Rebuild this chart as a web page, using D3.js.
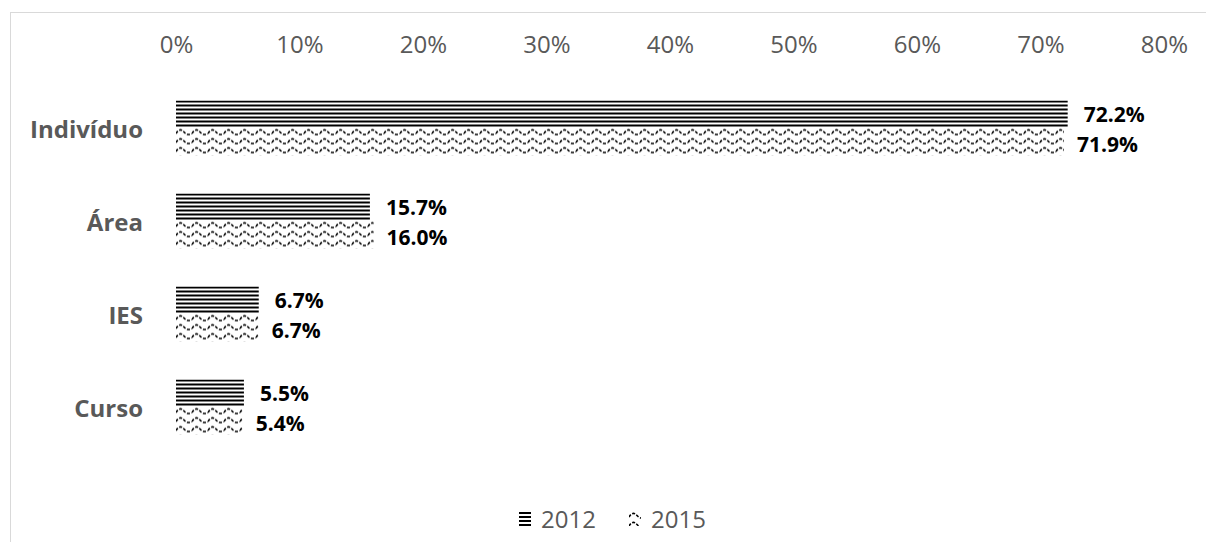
<!DOCTYPE html>
<html>
<head>
<meta charset="utf-8">
<script src="https://cdn.jsdelivr.net/npm/d3@7"></script>
<style>
  html, body { margin: 0; padding: 0; background: #fff; }
  svg { display: block; font-family: "Open Sans", "Noto Sans", sans-serif; }
</style>
</head>
<body>
<svg id="chart" width="1206" height="542"></svg>
<script>
// Categories and series (percent of responses)
const categories = ["Indivíduo", "Área", "IES", "Curso"];
const seriesNames = ["2012", "2015"];
const values2012 = [72.2, 15.7, 6.7, 5.5];
const values2015 = [71.9, 16.0, 6.7, 5.4];
const tickValues = [0, 10, 20, 30, 40, 50, 60, 70, 80];

const svg = d3.select("#chart");
const grey = "#595959";

// Outer frame of the chart area
svg.append("rect")
  .attr("x", 10.5).attr("y", 12.5)
  .attr("width", 1220).attr("height", 560)
  .attr("fill", "#fff").attr("stroke", "#d9d9d9").attr("stroke-width", 1);

// Fill patterns: horizontal lines for 2012, wavy lines for 2015
const defs = svg.append("defs");
function horizPattern(id, ox, oy) {
  const p = defs.append("pattern").attr("id", id)
    .attr("patternUnits", "userSpaceOnUse")
    .attr("patternTransform", `translate(${ox},${oy})`)
    .attr("width", 8).attr("height", 4);
  p.append("rect").attr("width", 8).attr("height", 4).attr("fill", "#fff");
  p.append("rect").attr("y", 0).attr("width", 8).attr("height", 2).attr("fill", "#000");
}
function wavePattern(id, ox, oy) {
  const p = defs.append("pattern").attr("id", id)
    .attr("patternUnits", "userSpaceOnUse")
    .attr("patternTransform", `translate(${ox},${oy})`)
    .attr("width", 16).attr("height", 9);
  p.append("rect").attr("width", 16).attr("height", 9).attr("fill", "#fff");
  p.append("path")
    .attr("d", "M0,6 C2.5,1.5 5.5,1.5 8,4.5 C10.5,7.5 13.5,7.5 16,6")
    .attr("fill", "none").attr("stroke", "#000").attr("stroke-width", 1.6)
    .attr("stroke-dasharray", "3,1.6");
}
horizPattern("pat2012", 0, 0);
wavePattern("pat2015", 0, 0);
const fills = ["url(#pat2012)", "url(#pat2015)"];

// Scales
const x = d3.scaleLinear().domain([0, 80]).range([176, 1164]);
const y = d3.scaleBand().domain(categories).range([81.5, 453.5]).paddingInner(0).paddingOuter(0);
const groupH = 55;
const ySub = d3.scaleBand().domain(seriesNames).range([0, groupH]);

// Top axis with percent labels
const axis = d3.axisTop(x).tickValues(tickValues).tickSize(0).tickPadding(0)
  .tickFormat(d => d + "%");
const gAxis = svg.append("g").attr("transform", "translate(0,53)").call(axis);
gAxis.select(".domain").remove();
gAxis.selectAll("text")
  .attr("fill", grey).attr("font-size", 24).attr("dy", 0)
  .style("font-family", "'Open Sans', sans-serif");

// Category labels
svg.append("g").selectAll("text").data(categories).join("text")
  .attr("x", 143)
  .attr("y", d => y(d) + y.bandwidth() / 2 + 2)
  .attr("dy", "0.35em")
  .attr("text-anchor", "end")
  .attr("font-size", 24).attr("font-weight", "bold").attr("fill", grey)
  .text(d => d);

// Bars and value labels
const rows = categories.map((c, i) => ({ cat: c, vals: [values2012[i], values2015[i]] }));
const groups = svg.append("g").selectAll("g").data(rows).join("g")
  .attr("transform", d => `translate(0,${y(d.cat) + (y.bandwidth() - groupH) / 2})`);

groups.selectAll("rect").data(d => d.vals.map((v, j) => ({ v, s: seriesNames[j], j })))
  .join("rect")
  .attr("x", x(0))
  .attr("y", d => ySub(d.s))
  .attr("width", d => x(d.v) - x(0))
  .attr("height", ySub.bandwidth())
  .attr("fill", d => fills[d.j]);

groups.selectAll("text").data(d => d.vals.map((v, j) => ({ v, s: seriesNames[j], j })))
  .join("text")
  .attr("x", d => x(d.v) + (d.j === 0 ? 16 : 13))
  .attr("y", d => ySub(d.s) + ySub.bandwidth() / 2 + (d.j === 0 ? 0.5 : 2.5))
  .attr("dy", "0.35em")
  .attr("font-size", 21).attr("font-weight", "bold").attr("fill", "#000")
  .text(d => d.v.toFixed(1) + "%");

// Legend
const legendItems = [
  { name: seriesNames[0], x: 519 },
  { name: seriesNames[1], x: 629 }
];
const legY = 512;
horizPattern("legPat2012", legendItems[0].x, legY);
wavePattern("legPat2015", legendItems[1].x, legY - 1);
const legFills = ["url(#legPat2012)", "url(#legPat2015)"];
const gLeg = svg.append("g");
legendItems.forEach((it, i) => {
  gLeg.append("rect").attr("x", it.x).attr("y", legY).attr("width", 12).attr("height", 14)
    .attr("fill", legFills[i]);
  gLeg.append("text").attr("x", it.x + 22).attr("y", 528)
    .attr("font-size", 24).attr("fill", grey).text(it.name);
});
</script>
</body>
</html>
